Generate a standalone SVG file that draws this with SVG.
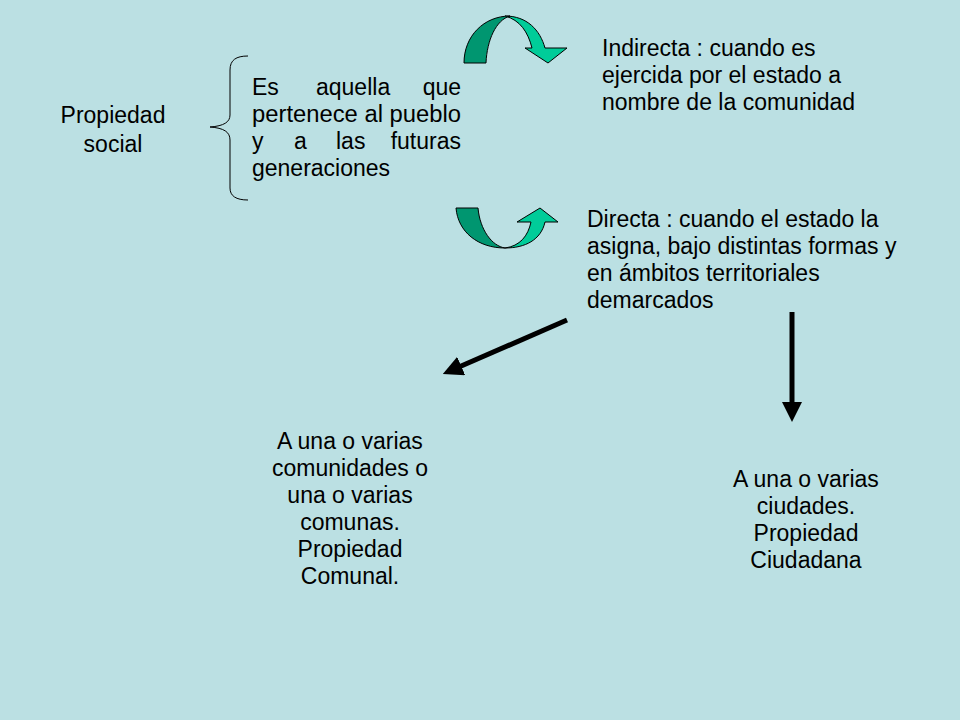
<svg xmlns="http://www.w3.org/2000/svg" width="960" height="720" viewBox="0 0 960 720">
<style>
text{font-family:"Liberation Sans",Arial,sans-serif;font-size:23px;fill:#000}
.d{fill:#009670;stroke:#000;stroke-width:1}
.l{fill:#00CC99;stroke:#000;stroke-width:1}
</style>
<defs><marker id="ah" viewBox="0 0 10 10" refX="5" refY="5" markerWidth="4" markerHeight="4" orient="auto"><path d="M0,0 L10,5 L0,10 Z" fill="#000"/></marker></defs>
<rect width="960" height="720" fill="#BBE0E3"/>
<g id="propiedad"><text x="113" y="123" text-anchor="middle">Propiedad</text><text x="113" y="152" text-anchor="middle">social</text></g>
<g id="brace"><path d="M248,56 C236,56 230,60 230,70 L230,115 C230,122 224,126 210,127 C224,128 230,132 230,140 L230,188 C230,196 236,200 248,200" fill="none" stroke="#000" stroke-width="1"/></g>
<g id="def"><text x="252" y="95">Es</text><text x="316" y="95">aquella</text><text x="461" y="95" text-anchor="end">que</text>
<text x="252" y="122" textLength="209" lengthAdjust="spacingAndGlyphs">pertenece al pueblo</text>
<text x="252" y="149">y</text><text x="294" y="149">a</text><text x="336" y="149">las</text><text x="461" y="149" text-anchor="end">futuras</text>
<text x="252" y="176">generaciones</text></g>
<g id="indirecta"><text x="602" y="56">Indirecta : cuando es</text><text x="602" y="83">ejercida por el estado a</text><text x="602" y="110">nombre de la comunidad</text></g>
<g id="directa"><text x="587" y="227">Directa : cuando el estado la</text><text x="587" y="254">asigna, bajo distintas formas y</text><text x="587" y="281">en ámbitos territoriales</text><text x="587" y="308">demarcados</text></g>
<g id="comunal" text-anchor="middle"><text x="350" y="449">A una o varias</text><text x="350" y="476">comunidades o</text><text x="350" y="503">una o varias</text><text x="350" y="530">comunas.</text><text x="350" y="557">Propiedad</text><text x="350" y="584">Comunal.</text></g>
<g id="ciudadana" text-anchor="middle"><text x="806" y="487">A una o varias</text><text x="806" y="514">ciudades.</text><text x="806" y="541">Propiedad</text><text x="806" y="568">Ciudadana</text></g>
<g id="connectors">
<path class="l" d="M505,16 C527,16 540,30 545,48 L567,48 L548,63 L525,48 L532,48 C528,32 520,20 505,16 Z"/>
<path class="d" d="M464,63 C464,36 484,16 510,16 C496,20 487,40 486,63 Z"/>
<path class="d" d="M456,208 L478,208 C480,230 492,246 505,248 C478,248 458,232 456,208 Z"/>
<path class="l" d="M505,248 C520,246 528,236 531,222 L517,222 L540,208 L558,222 L545,222 C541,240 525,248 505,248 Z"/>
<line x1="567" y1="320" x2="452" y2="370" stroke="#000" stroke-width="5" marker-end="url(#ah)"/>
<line x1="792" y1="312" x2="792" y2="412" stroke="#000" stroke-width="5" marker-end="url(#ah)"/>
</g>
</svg>
